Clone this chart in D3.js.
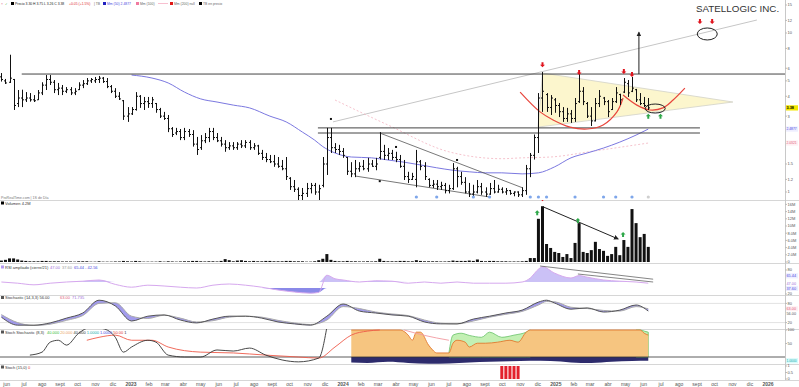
<!DOCTYPE html>
<html>
<head>
<meta charset="utf-8">
<script src="https://cdn.jsdelivr.net/npm/d3@7"></script>
<style>
body { margin: 0; background: #fff; }
svg { display: block; font-family: "Liberation Sans", Arial, sans-serif; }
</style>
</head>
<body>
<svg width="799" height="387"></svg>
<script>
// weekly bars, the first one is the week of 23 May 2022
var firstWeek = new Date(2022, 4, 23)

var open = [
  5.3,5.0,4.9,5.1,3.6,3.9,3.8,3.9,3.8,3.8,
  4.2,4.7,5.1,4.9,4.4,4.5,4.3,4.4,4.2,4.4,
  4.7,4.8,5.0,5.0,5.1,5.2,4.95,4.6,4.3,4.0,
  3.75,3.0,3.1,3.3,4.0,3.6,3.7,3.6,3.6,3.3,
  3.0,2.9,2.5,2.35,2.4,2.2,2.4,2.3,2.0,1.9,
  2.1,2.2,2.4,2.2,2.1,2.0,1.9,1.95,1.9,2.0,
  1.95,2.05,1.9,1.95,1.75,1.65,1.6,1.55,1.5,1.45,
  1.4,1.22,1.08,1.04,0.95,0.98,1.05,1.1,1.0,1.1,
  1.5,2.2,1.9,1.85,1.8,1.65,1.35,1.3,1.4,1.45,
  1.4,1.5,1.45,1.65,1.8,1.7,1.75,1.65,1.6,1.45,
  1.25,1.2,1.2,1.55,1.45,1.2,1.1,1.12,1.08,1.1,
  1.02,1.05,1.4,1.25,1.15,1.0,0.97,1.0,1.08,1.0,
  0.97,1.05,1.0,1.04,1.0,1.02,0.98,1.0,0.96,1.02,
  1.4,1.7,2.2,3.9,4.1,3.4,3.8,3.5,3.2,2.9,
  3.1,2.9,3.7,4.3,3.6,3.0,2.8,3.6,3.9,3.7,
  3.3,3.7,4.1,4.25,4.8,4.3,4.4,3.8,3.6,3.5]
var high = [
  5.6,5.14,7.3,5.14,4.38,4.4,4.25,4.19,4.07,4.38,
  4.9,5.44,5.44,5.06,4.85,4.71,4.57,4.57,4.5,4.9,
  5.06,5.21,5.21,5.29,5.37,5.29,5.21,4.71,4.5,4.25,
  3.79,3.42,3.42,4.25,4.07,3.96,3.96,3.96,3.63,3.38,
  3.19,3.05,2.56,2.53,2.49,2.53,2.49,2.45,2.22,2.28,
  2.35,2.53,2.53,2.35,2.22,2.12,2.06,2.06,2.06,2.12,
  2.12,2.12,2.03,1.98,1.84,1.76,1.71,1.71,1.66,1.59,
  1.66,1.24,1.19,1.07,1.06,1.14,1.14,1.14,1.11,1.66,
  2.53,2.53,2.03,1.98,1.89,1.66,1.54,1.59,1.54,1.59,
  1.64,1.59,1.64,2.38,1.98,1.89,1.84,1.79,1.71,1.59,
  1.34,1.32,1.84,1.59,1.54,1.22,1.19,1.19,1.16,1.14,
  1.11,1.52,1.44,1.34,1.24,1.14,1.11,1.19,1.14,1.07,
  1.14,1.19,1.11,1.07,1.06,1.03,1.01,1.01,1.07,1.48,
  1.76,2.3,4.19,5.68,4.19,4.07,3.9,3.63,3.42,3.38,
  3.28,3.9,5.6,4.57,3.68,3.42,3.9,4.38,3.96,3.79,
  3.9,4.57,4.15,5.21,5.06,5.29,4.45,4.19,3.96,3.9]
var low = [
  4.95,4.78,4.85,3.28,3.42,3.42,3.68,3.7,3.68,3.79,
  4.07,4.38,4.71,4.19,4.07,4.07,4.19,4.07,4.07,4.38,
  4.5,4.71,4.85,4.85,4.85,4.85,4.5,4.19,3.9,3.79,
  2.84,2.76,3.05,3.25,3.38,3.28,3.38,3.38,3.15,2.92,
  2.84,2.38,2.22,2.28,2.12,2.12,2.22,1.93,1.71,1.84,
  2.03,2.06,2.12,2.06,1.93,1.79,1.84,1.84,1.84,1.89,
  1.89,1.84,1.84,1.71,1.59,1.54,1.52,1.44,1.42,1.37,
  1.19,1.03,1.0,0.89,0.89,0.93,0.98,0.96,0.89,1.07,
  1.28,1.76,1.76,1.71,1.64,1.28,1.24,1.24,1.34,1.37,
  1.34,1.44,1.37,1.6,1.59,1.59,1.59,1.54,1.42,1.19,
  1.14,1.19,1.07,1.37,1.19,1.07,1.06,1.03,1.03,0.98,
  0.98,1.03,1.07,1.11,0.98,0.93,0.92,0.98,0.96,0.93,
  0.96,0.98,0.99,0.98,0.96,0.96,0.94,0.93,0.93,0.96,
  1.24,1.6,1.76,3.19,3.19,3.05,3.15,2.96,2.76,2.76,
  2.72,2.76,3.63,3.52,2.92,2.6,2.78,3.42,3.52,2.96,
  3.28,3.63,3.52,4.19,3.96,4.25,3.68,3.52,3.42,3.28]
var close = [
  5.1,4.85,5.2,3.5,3.9,3.8,3.9,3.8,3.75,4.2,
  4.7,5.1,4.9,4.4,4.5,4.3,4.4,4.2,4.3,4.7,
  4.8,5.0,5.1,5.1,5.2,4.95,4.6,4.3,4.0,3.85,
  3.0,3.1,3.3,4.0,3.6,3.7,3.6,3.8,3.3,3.0,
  2.9,2.5,2.3,2.4,2.2,2.4,2.3,2.0,1.85,2.1,
  2.2,2.4,2.2,2.1,2.0,1.9,1.95,1.9,2.0,1.95,
  2.05,1.9,1.95,1.75,1.65,1.6,1.55,1.5,1.45,1.4,
  1.25,1.08,1.04,0.95,0.98,1.05,1.1,1.0,1.05,1.5,
  2.2,1.9,1.85,1.8,1.7,1.35,1.3,1.4,1.45,1.4,
  1.5,1.45,1.5,1.8,1.7,1.75,1.65,1.6,1.45,1.25,
  1.2,1.25,1.55,1.45,1.25,1.1,1.12,1.08,1.1,1.02,
  1.05,1.4,1.25,1.15,1.0,0.97,1.0,1.08,1.0,0.97,
  1.05,1.0,1.04,1.0,1.02,0.98,1.0,0.96,1.02,1.4,
  1.7,2.2,3.9,4.3,3.4,3.9,3.5,3.2,2.9,3.1,
  2.9,3.6,4.3,3.7,3.0,2.8,3.6,4.0,3.7,3.2,
  3.7,4.2,3.8,4.9,4.2,4.5,3.8,3.6,3.5,3.38]
// millions of shares
var volume = [
  0.4,0.6,1.0,1.0,0.7,0.4,0.3,0.2,0.2,0.2,
  0.3,0.3,0.2,0.2,0.2,0.15,0.15,0.15,0.1,0.2,
  0.2,0.2,0.1,0.1,0.2,0.1,0.1,0.1,0.15,0.15,
  0.3,0.2,0.15,0.3,0.2,0.1,0.1,0.1,0.1,0.2,
  0.1,0.2,0.15,0.1,0.15,0.2,0.2,0.3,0.3,0.2,
  0.15,0.2,0.2,0.15,0.3,0.8,0.5,0.2,0.4,0.5,
  0.3,0.2,0.3,0.2,0.2,0.3,0.3,0.2,0.2,0.2,
  0.3,0.3,0.2,0.2,0.2,0.1,0.1,0.2,0.5,0.9,
  2.2,0.6,0.3,0.2,0.2,0.3,0.2,0.2,0.15,0.15,
  0.2,0.15,0.2,0.9,0.3,0.2,0.2,0.2,0.3,0.3,
  0.2,0.2,0.5,0.3,0.2,0.2,0.2,0.2,0.15,0.15,
  0.2,0.4,0.3,0.3,0.3,0.4,0.3,0.7,0.3,0.2,
  0.3,0.3,0.2,0.2,0.2,0.15,0.15,0.15,0.2,0.3,
  1.1,1.1,12,15.5,5,3.9,2.8,2.5,1.4,2.2,
  1.1,5.3,10.8,2.8,2.5,3.3,5.6,3.6,3.1,1.7,
  2.2,4.2,1.9,6.1,4.2,14.7,10.8,6.9,7.8,4.2]

// moving averages, read at a few bars
var ma50Idx = [32,37,41,45,49,53,57,61,66,70,74,77,79,82,86,91,95,99,103,107,111,115,119,123,128,132,136,140,144,148,152,156,159]
var ma50Val = [5.44,5.21,4.85,4.25,3.85,3.68,3.52,3.38,3.0,2.76,2.38,2.12,1.93,1.76,1.66,1.64,1.59,1.54,1.48,1.42,1.37,1.34,1.32,1.32,1.30,1.32,1.44,1.64,1.76,1.89,2.06,2.28,2.4877]
var ma200Idx = [82,95,110,123,128,135,145,159]
var ma200Val = [3.79,2.64,1.79,1.62,1.64,1.66,1.80,2.0321]

// RSI
var rsiIdx = [0,4,8,12,16,20,24,28,32,36,40,44,48,52,56,60,64,68,72,76,78,80,82,84,88,92,96,100,104,108,112,116,120,124,128,130,132,133,136,140,142,144,148,152,156,159]
var rsiVal = [50,47,43,47,50,52,55,44,37,42,40,37,35,42,45,42,37,30,25,22,24,67,58,55,50,53,52,47,50,47,50,47,47,47,50,60,82,88,72,60,66,62,55,52,50,47]

// stochastic %K / %D
var stochIdx = [0,4,8,12,16,20,24,28,32,36,40,44,48,52,56,60,64,68,72,76,80,84,88,92,96,100,104,108,112,116,120,124,128,132,134,136,140,144,148,152,156,159]
var stochK = [37,12,12,19,34,50,90,72,25,40,44,28,19,31,40,40,34,22,16,12,40,78,56,50,44,40,22,16,16,31,40,50,59,84,90,81,62,66,53,59,75,56]
var stochD = [45,20,11,15,27,42,80,82,40,33,43,34,22,26,37,40,37,27,19,14,28,70,64,53,47,42,28,18,16,25,37,46,55,75,86,85,68,64,58,56,70,63]

// "Stoch Stochastic" panel
var swBlackIdx = [7,10,12,14,16,19,22,25,28,30,32,36,38,41,45,49,53,57,61,65,69,73,78,80]
var swBlackVal = [7,18,55,62,44,88,110,105,73,18,37,62,55,7,0,0,26,22,33,7,-11,-18,-4,110]
var swRedIdx = [21,24,28,32,37,41,49,57,65,73,78,82,86,90,93]
var swRedVal = [62,73,81,62,62,37,18,15,7,0,-4,37,81,96,100]
var swZoneIdx = [86,98,100,101,102,103,105,106,107,110,111,112,114,115,117,119,122,125,127,129,130,157,158,159]
var swZoneVal = [100,100,81,62,92,92,44,26,15,15,51,62,55,37,51,51,55,62,55,92,100,100,88,81]
var swGreenIdx = [110,111,113,115,118,120,123,126,129,130,null,156,157,158,159]
var swGreenVal = [15,81,88,80,73,92,73,81,92,100,null,100,100,96,92]
var swPinkIdx = [99,104,110]
var swPinkVal = [100,80,62]
var swLowIdx = [86,90,95,100,105,110,115,120,125,130,135,140,145,150,155,159]
var swLowVal = [-20,-22,-18,-22,-25,-24,-20,-18,-16,-14,-15,-20,-22,-18,-15,-14]

// last panel signal bars
var sigIdx = [123,124,125,126,127]
var sigVal = [1,1,1,1,1]

var monthNames = ['ene','feb','mar','abr','may','jun','jul','ago','sept','oct','nov','dic']
var priceTicks = [1,1.2,1.5,2,3,4,5,6,8,10,12,15]
var volTicks = [0,2,4,6,8,10,12,14,16]

// drawings: [bar index, price]
var resistance = 5.52
var boxLevels = [2.53, 2.35]
var channelLine = [[81.5,2.76],[185.7,12.07]]
var wedgeTop = [[93,2.35],[128.2,1.06]]
var wedgeBottom = [[87,1.26],[120,0.93]]
var triangle = [[133,5.6],[131.9,2.56],[179.8,3.68]]
var cupBig = [[127.5,4.25],[132.4,3.19],[135.6,2.84],[139.8,2.56],[144,2.49],[147.9,2.64],[151.3,3.19],[152.8,3.9]]
var cupSmall = [[152.8,4.07],[156.2,3.52],[159.4,3.28],[162.6,3.38],[165.1,3.79],[168,4.5]]
var targetLine = [[156.7,5.52],[156.7,10.1]]
var ellipseCenters = [[160.7,3.35],[173.5,9.86]]
var redArrows = [[133,6.1],[142,5.44],[153,5.52],[155,5.29],[171.7,11.38],[174.7,11.38]]
var greenArrows = [[159,3.1],[162,3.1]]
var pivotDots = [[81,2.88],[97,1.92],[112,1.59],[93,1.17]]
var eventIdx = [102,107,116,120,130,132,134,141,148,151,155]
var eventPending = [159]
var volTrend = [[133.2,15.3],[151.6,6.4]]
var volRedArrows = [[133,16.9]]
var volGreenArrows = [[131.7,14.4],[141.7,12.2],[152.8,8.3]]
var rsiTrend1 = [[132.4,90],[160.2,57]]
var rsiTrend2 = [[141.7,70],[160.2,50]]

var svg = d3.select('svg')
var axisX = 785

var x = d3.scaleTime().domain([new Date(2023, 0, 1), new Date(2026, 0, 1)]).range([131, 768])
function X(i) { return x(new Date(firstWeek.getTime() + i * 7 * 864e5)) }

var yP = d3.scaleLog().domain([1, 10]).range([192, 33])
var yV = d3.scaleLinear().domain([0, 10]).range([262, 226])
var yR = d3.scaleLinear().domain([20, 80]).range([294, 270])
var yS = d3.scaleLinear().domain([0, 100]).range([329, 297])
var yW = d3.scaleLinear().domain([0, 100]).range([357, 330])
var yB = d3.scaleLinear().domain([0, 1]).range([379, 366])

// clip paths, one per panel
var panels = {price: [8, 200], vol: [200, 263], rsi: [263, 295], sto: [295, 329], sw: [329, 364], sig: [364, 380]}
var defs = svg.append('defs')
Object.keys(panels).forEach(function(k) {
  defs.append('clipPath').attr('id', 'clip-' + k).append('rect')
    .attr('x', 0).attr('y', panels[k][0]).attr('width', axisX).attr('height', panels[k][1] - panels[k][0])
})
defs.append('marker').attr('id', 'arr').attr('viewBox', '0 0 6 6').attr('refX', 5).attr('refY', 3)
  .attr('markerWidth', 5).attr('markerHeight', 5).attr('orient', 'auto')
  .append('path').attr('d', 'M0,0L6,3L0,6z').attr('fill', '#222')

// panel separators and axis line
;[200, 263, 295, 329, 364, 380].forEach(function(y) {
  svg.append('line').attr('x1', 0).attr('x2', 799).attr('y1', y + 0.5).attr('y2', y + 0.5)
    .attr('stroke', '#d6d6d6')
})
svg.append('line').attr('x1', axisX + 0.5).attr('x2', axisX + 0.5).attr('y1', 0).attr('y2', 380)
  .attr('stroke', '#c8c8c8')

function pts(a) { return a.map(function(d) { return [X(d[0]), yP(d[1])] }) }
var straight = d3.line()

// ---------- price panel ----------
var gp = svg.append('g').attr('clip-path', 'url(#clip-price)')

gp.append('path').attr('d', straight(pts(triangle)) + 'Z')
  .attr('fill', '#fbf5c4').attr('fill-opacity', 0.85).attr('stroke', '#d2d2c8').attr('stroke-width', 0.8)

gp.append('path').attr('d', straight(pts(channelLine))).attr('stroke', '#c6c6c6').attr('fill', 'none')

var ma200 = d3.line().x(function(d, i) { return X(ma200Idx[i]) }).y(function(d) { return yP(d) }).curve(d3.curveMonotoneX)
gp.append('path').attr('d', ma200(ma200Val)).attr('fill', 'none')
  .attr('stroke', '#f3b4c0').attr('stroke-width', 0.8).attr('stroke-dasharray', '2,2')

var ma50 = d3.line().x(function(d, i) { return X(ma50Idx[i]) }).y(function(d) { return yP(d) }).curve(d3.curveMonotoneX)
gp.append('path').attr('d', ma50(ma50Val)).attr('fill', 'none')
  .attr('stroke', '#7b78e0').attr('stroke-width', 1)

gp.append('line').attr('x1', X(5)).attr('x2', axisX).attr('y1', yP(resistance)).attr('y2', yP(resistance))
  .attr('stroke', '#444').attr('stroke-width', 1)
boxLevels.forEach(function(p) {
  gp.append('line').attr('x1', X(77.8)).attr('x2', X(171.7)).attr('y1', yP(p)).attr('y2', yP(p))
    .attr('stroke', '#444').attr('stroke-width', 1)
})
;[wedgeTop, wedgeBottom].forEach(function(w) {
  gp.append('path').attr('d', straight(pts(w))).attr('stroke', '#555').attr('stroke-width', 0.8).attr('fill', 'none')
})

var smooth = d3.line().curve(d3.curveCatmullRom)
;[cupBig, cupSmall].forEach(function(c) {
  gp.append('path').attr('d', smooth(pts(c))).attr('fill', 'none').attr('stroke', '#e8453c').attr('stroke-width', 1.2)
})

// OHLC bars
var bars = gp.append('g').attr('stroke', '#111').attr('stroke-width', 1)
close.forEach(function(c, i) {
  var px = Math.round(X(i)) + 0.5
  bars.append('line').attr('x1', px).attr('x2', px).attr('y1', yP(high[i])).attr('y2', yP(low[i]))
  bars.append('line').attr('x1', px - 1.5).attr('x2', px).attr('y1', yP(open[i])).attr('y2', yP(open[i]))
  bars.append('line').attr('x1', px).attr('x2', px + 1.5).attr('y1', yP(c)).attr('y2', yP(c))
})

gp.append('path').attr('d', straight(pts(targetLine))).attr('stroke', '#222').attr('stroke-width', 1)
  .attr('marker-end', 'url(#arr)')
gp.append('ellipse').attr('cx', X(ellipseCenters[0][0])).attr('cy', yP(ellipseCenters[0][1]))
  .attr('rx', 10).attr('ry', 4.5).attr('fill', 'none').attr('stroke', '#222')
gp.append('ellipse').attr('cx', X(ellipseCenters[1][0])).attr('cy', yP(ellipseCenters[1][1]))
  .attr('rx', 10).attr('ry', 6).attr('fill', 'none').attr('stroke', '#222')

var downArrow = 'M-1,-5h2v2.5h1.5l-2.5,2.5l-2.5,-2.5h1.5z'
var upArrow = 'M-1,5h2v-2.5h1.5l-2.5,-2.5l-2.5,2.5h1.5z'
function arrows(g, list, yf, shape, color) {
  list.forEach(function(d) {
    g.append('path').attr('d', shape).attr('fill', color)
      .attr('transform', 'translate(' + X(d[0]) + ',' + yf(d[1]) + ')')
  })
}
arrows(gp, redArrows, yP, downArrow, '#e0141e')
arrows(gp, greenArrows, yP, upArrow, '#2fa84a')

pivotDots.forEach(function(d) {
  gp.append('rect').attr('x', X(d[0]) - 1).attr('y', yP(d[1]) - 1).attr('width', 2).attr('height', 2).attr('fill', '#111')
})
eventIdx.forEach(function(i) {
  gp.append('circle').attr('cx', X(i)).attr('cy', 197).attr('r', 1.6).attr('fill', '#7ea6ea')
})
eventPending.forEach(function(i) {
  gp.append('circle').attr('cx', X(i)).attr('cy', 197).attr('r', 1.6).attr('fill', '#cfcfcf')
})

// ---------- volume ----------
var gv = svg.append('g').attr('clip-path', 'url(#clip-vol)')
volume.forEach(function(v, i) {
  gv.append('rect').attr('x', X(i) - 1.5).attr('width', 3)
    .attr('y', yV(v)).attr('height', yV(0) - yV(v)).attr('fill', '#111')
})
gv.append('path').attr('d', straight(volTrend.map(function(d) { return [X(d[0]), yV(d[1])] })))
  .attr('stroke', '#222').attr('stroke-width', 1).attr('marker-end', 'url(#arr)')
arrows(gv, volRedArrows, yV, downArrow, '#e0141e')
arrows(gv, volGreenArrows, yV, upArrow, '#2fa84a')

// ---------- RSI ----------
var gr = svg.append('g').attr('clip-path', 'url(#clip-rsi)')
var rx = function(d, i) { return X(rsiIdx[i]) }
gr.append('path').attr('fill', '#c2b6f4').attr('opacity', 0.85)
  .attr('d', d3.area().x(rx).y0(yR(50)).y1(function(d) { return yR(Math.max(d, 50)) }).curve(d3.curveMonotoneX)(rsiVal))
gr.append('path').attr('fill', '#7d7ce6').attr('opacity', 0.9)
  .attr('d', d3.area().x(rx).y0(yR(35)).y1(function(d) { return yR(Math.min(d, 35)) }).curve(d3.curveMonotoneX)(rsiVal))
gr.append('path').attr('fill', 'none').attr('stroke', '#d6a8ee').attr('stroke-width', 1)
  .attr('d', d3.line().x(rx).y(function(d) { return yR(d) }).curve(d3.curveMonotoneX)(rsiVal))
;[rsiTrend1, rsiTrend2].forEach(function(t) {
  gr.append('path').attr('d', straight(t.map(function(d) { return [X(d[0]), yR(d[1])] })))
    .attr('stroke', '#666').attr('stroke-width', 0.8)
})

// ---------- stochastic ----------
var gs = svg.append('g').attr('clip-path', 'url(#clip-sto)')
;[80, 20].forEach(function(l) {
  gs.append('line').attr('x1', 0).attr('x2', axisX).attr('y1', yS(l)).attr('y2', yS(l)).attr('stroke', '#e2e2e2')
})
var sx = function(d, i) { return X(stochIdx[i]) }
gs.append('path').attr('fill', '#8379e6').attr('opacity', 0.75)
  .attr('d', d3.area().x(sx).y0(function(d, i) { return yS(stochD[i]) }).y1(function(d) { return yS(d) })
    .curve(d3.curveMonotoneX)(stochK))
gs.append('path').attr('fill', 'none').attr('stroke', '#aaa').attr('stroke-width', 1)
  .attr('d', d3.line().x(sx).y(function(d) { return yS(d) }).curve(d3.curveMonotoneX)(stochD))
gs.append('path').attr('fill', 'none').attr('stroke', '#555').attr('stroke-width', 1)
  .attr('d', d3.line().x(sx).y(function(d) { return yS(d) }).curve(d3.curveMonotoneX)(stochK))

// ---------- "Stoch Stochastic" ----------
var gw = svg.append('g').attr('clip-path', 'url(#clip-sw)')
function idxLine(idx, yf) {
  return d3.line().defined(function(d) { return d != null })
    .x(function(d, i) { return X(idx[i]) }).y(function(d) { return yf(d) }).curve(d3.curveMonotoneX)
}
function idxArea(idx, yf) {
  return d3.area().defined(function(d) { return d != null })
    .x(function(d, i) { return X(idx[i]) }).y0(yf(0)).y1(function(d) { return yf(d) }).curve(d3.curveMonotoneX)
}
gw.append('path').attr('d', idxArea(swLowIdx, yW)(swLowVal)).attr('fill', '#2d2b6c')
gw.append('path').attr('d', idxArea(swGreenIdx, yW)(swGreenVal)).attr('fill', '#c3f0b4')
  .attr('stroke', '#66c266').attr('stroke-width', 0.8)
gw.append('path').attr('d', idxArea(swZoneIdx, yW)(swZoneVal)).attr('fill', '#f6c580')
gw.append('path').attr('d', idxLine(swZoneIdx, yW)(swZoneVal)).attr('fill', 'none')
  .attr('stroke', '#e2782e').attr('stroke-width', 0.9)
gw.append('path').attr('d', idxLine(swPinkIdx, yW)(swPinkVal)).attr('fill', 'none')
  .attr('stroke', '#f29aa0').attr('stroke-width', 0.9)
gw.append('line').attr('x1', 0).attr('x2', axisX).attr('y1', yW(0)).attr('y2', yW(0))
  .attr('stroke', '#333').attr('stroke-width', 0.8)
gw.append('path').attr('d', idxLine(swRedIdx, yW)(swRedVal)).attr('fill', 'none')
  .attr('stroke', '#ee5a4a').attr('stroke-width', 0.9)
gw.append('path').attr('d', idxLine(swBlackIdx, yW)(swBlackVal)).attr('fill', 'none')
  .attr('stroke', '#333').attr('stroke-width', 0.9)

// ---------- signal bars ----------
var gb = svg.append('g').attr('clip-path', 'url(#clip-sig)')
sigVal.forEach(function(v, i) {
  gb.append('rect').attr('x', X(sigIdx[i]) - 1.5).attr('width', 3)
    .attr('y', yB(v)).attr('height', yB(0) - yB(v)).attr('fill', '#e3202c')
})

// ---------- right axis ----------
var ax = svg.append('g').attr('font-size', 4).attr('fill', '#555')
var last = function(a) { return a[a.length - 1] }
// value labels: [y, text, colour, background, bold]; they win over plain ticks
var valueLabels = [
  [yP(last(close)), last(close).toFixed(2), '#000', '#f3e600', true],
  [yP(last(ma50Val)), last(ma50Val).toFixed(4), '#4a48e0', '#eeeeff'],
  [yP(last(ma200Val)), last(ma200Val).toFixed(4), '#e0607a', '#fff0f2'],
  [yR(65.44), '65.44', '#4a48e0', '#eeeeff'],
  [yR(last(rsiVal)), last(rsiVal).toFixed(2), '#a070d8', '#fff'],
  [yR(37.6), '37.60', '#4a48e0', '#eeeeff'],
  [yS(last(stochD)), last(stochD).toFixed(2), '#e0607a', '#fff0f2'],
  [yS(last(stochK)), last(stochK).toFixed(2), '#555', '#fff'],
  [yW(-14), '1.0000', '#1aa', '#d8fafa']
]
// keep value labels apart from each other
valueLabels.sort(function(a, b) { return a[0] - b[0] })
for (var k = 1; k < valueLabels.length; k++) {
  if (valueLabels[k][0] - valueLabels[k - 1][0] < 5.2) valueLabels[k][0] = valueLabels[k - 1][0] + 5.2
}
function free(y) { return valueLabels.every(function(l) { return Math.abs(l[0] - y) > 5 }) }
function tick(y, txt) {
  if (!free(y)) return
  ax.append('line').attr('x1', axisX).attr('x2', axisX + 2).attr('y1', y).attr('y2', y).attr('stroke', '#bbb')
  ax.append('text').attr('x', axisX + 2.5).attr('y', y).attr('dy', '0.35em').text(txt)
}
priceTicks.forEach(function(p) { tick(yP(p), p) })
volTicks.forEach(function(v) { tick(yV(v), v === 0 ? '0' : v >= 10 ? v + 'M' : v + '.0M') })
;[80, 20].forEach(function(v) { tick(yR(v), v) })
;[80, 50, 20].forEach(function(v) { tick(yS(v), v) })
;[100, 50, 0].forEach(function(v) { tick(yW(v), v) })
;[1, 0.5, 0].forEach(function(v) { tick(yB(v), v) })

valueLabels.forEach(function(l) {
  ax.append('rect').attr('x', axisX + 1).attr('y', l[0] - 2.6).attr('width', 12).attr('height', 5.2).attr('fill', l[3])
  ax.append('text').attr('x', axisX + 1.5).attr('y', l[0]).attr('dy', '0.35em').attr('fill', l[2])
    .attr('font-size', l[1].length > 5 ? 3.3 : 3.8)
    .attr('font-weight', l[4] ? 'bold' : null).text(l[1])
})

// ---------- time axis ----------
var months = d3.timeMonth.range(new Date(2022, 5, 1), new Date(2026, 0, 2))
var tx = svg.append('g').attr('font-size', 5).attr('fill', '#555').attr('text-anchor', 'middle')
months.forEach(function(m) {
  var isYear = m.getMonth() === 0
  tx.append('text').attr('x', x(m)).attr('y', 385.5)
    .attr('font-weight', isYear ? 'bold' : null)
    .text(isYear ? m.getFullYear() : monthNames[m.getMonth()])
})

// ---------- legends: laid out left to right so pieces never overlap ----------
var tg = svg.append('g').attr('fill', '#333')
function legend(y, size, items) {
  var end = 0
  items.forEach(function(it) {
    var x0 = Math.max(it[0], end + 1)
    if (it[1] === 'sq') {
      tg.append('rect').attr('x', x0).attr('y', y - 3).attr('width', 3).attr('height', 3).attr('fill', it[2])
      end = x0 + 3
    } else {
      var t = tg.append('text').attr('x', x0).attr('y', y).attr('font-size', size)
        .attr('fill', it[2] || '#333').text(it[1])
      end = x0 + t.node().getComputedTextLength()
    }
  })
}
legend(5, 3.4, [[0, '\u00d7', '#e06080'], [5, '\u2713', '#3a3'], [11, 'sq', '#000'],
  [15, 'Precio 3.30 H 3.75 L 3.26 C 3.38', '#222'], [69, '+0.05 (+1.5%)', '#e03030'],
  [94, '| TB', '#666'], [103, 'sq', '#2020c0'], [107, 'Mm (50) 2.4877', '#4a48e0'],
  [136, 'sq', '#f07aa0'], [140, 'Mm (100)', '#666'], [170, 'sq', '#e01818'],
  [174, 'Mm (200) null', '#666'], [199, 'sq', '#000'], [203, 'TB en precio', '#666']])
tg.append('line').attr('x1', 158).attr('x2', 168).attr('y1', 3.5).attr('y2', 3.5).attr('stroke', '#f8c0d0')

legend(198.5, 3.6, [[0, 'ProRealTime.com | 1S de D\u00eda', '#777']])
legend(204.5, 4, [[0, 'sq', '#000'], [4, 'Volumen ' + last(volume) + 'M', '#333']])
legend(268.5, 4, [[0, 'sq', '#b59af0'], [4, 'RSI ampliado (cierre/21)', '#333'], [50, last(rsiVal).toFixed(2), '#a070d8'],
  [62, '37.60', '#999'], [74, '65.44 - 42.56', '#4a48e0']])
legend(299, 4, [[0, 'sq', '#555'], [4, 'Stochastic (14,3,3) ' + last(stochK).toFixed(2), '#333'],
  [60, last(stochD).toFixed(2), '#e0607a'], [72, '71.735', '#a070d8']])
legend(333.5, 4, [[0, 'sq', '#555'], [4, 'Stoch Stochastic (8,3)', '#333'], [47, '40.000', '#3b3'],
  [58, '20.000', '#e9a060'], [69, '40.000', '#333'], [84, '1.0000', '#1aa'], [96, '1.0000', '#4a48e0'],
  [108, '50.00', '#e03030'], [120, '1', '#333']])
legend(368.5, 4, [[0, 'sq', '#555'], [4, 'Stoch (15,0)', '#333'], [28, '0', '#e03030']])

svg.append('text').attr('x', 696).attr('y', 11.5).attr('font-size', 9.8).attr('fill', '#333')
  .text('SATELLOGIC INC.')
</script>
</body>
</html>
